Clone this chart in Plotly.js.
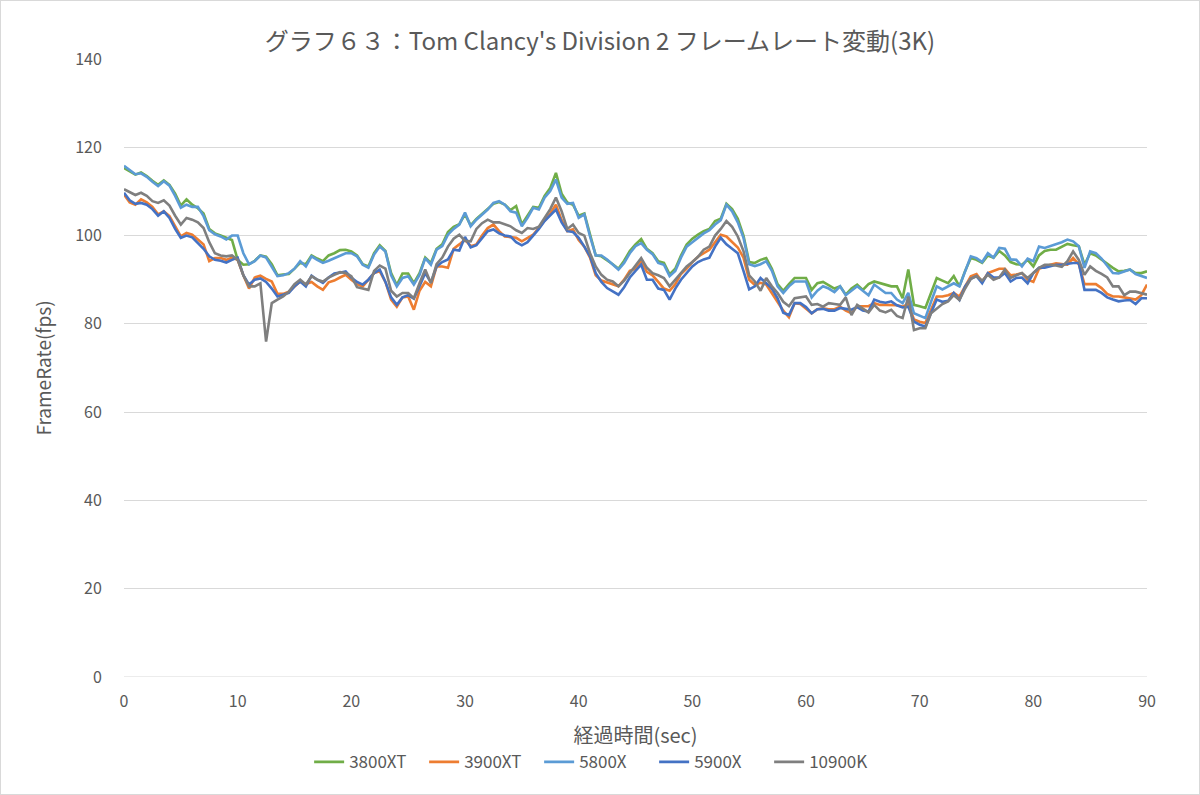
<!DOCTYPE html>
<html>
<head>
<meta charset="utf-8">
<script src="https://cdn.plot.ly/plotly-3.0.1.min.js"></script>
<style>
html,body{margin:0;padding:0;background:#fff;}
#chart{width:1200px;height:795px;box-sizing:border-box;border:1px solid #d9d9d9;}
</style>
</head>
<body>
<div id="chart"></div>
<script>
const seriesNames = ["3800XT", "3900XT", "5800X", "5900X", "10900K"];
const seriesColors = ["#70AD47", "#ED7D31", "#5B9BD5", "#4472C4", "#7F7F7F"];

// time axis: 0 .. 90 sec, every 0.5 sec
const timeSec = [];
for (let i = 0; i <= 180; i++) timeSec.push(i / 2);

const fps3800XT = [
115.3,114.5,113.8,114.3,113.5,112.4,111.5,112.5,111.5,109.5,
106.8,108.2,107,106.2,105,101.5,100.5,100,99.5,99,
94.5,93.4,93.5,94.3,95.5,95.2,93.5,91,91.2,91.3,
92.5,93.8,93.5,95.5,94.8,94.2,95.5,96,96.7,96.8,
96.4,95.5,93.5,93,96,97.8,96.5,91.5,88.8,91.4,
91.4,89.2,91.5,95,93.8,97,98,100.8,102,102.6,
104.8,102.3,103.8,105,106,107.2,107.6,107,105.8,106.7,
102.5,104.5,106.5,106.3,109,110.8,114.2,109.5,107.5,107,
104.5,105,100,95.5,95.3,94.5,93.5,92.5,94.3,96.5,
98,99.2,97,96,94.2,93.8,91.2,92.5,95.5,98,
99.3,100.2,101,101.5,103.3,103.8,107.2,106,103.8,100,
94,93.8,94.5,94.9,92.5,89,87.5,89,90.4,90.4,
90.4,87.7,89.2,89.5,88.8,88,88.5,86.6,88,88.9,
87.7,89,89.6,89.2,88.9,88.5,88.5,85.8,92.3,84.3,
84,83.6,87,90.4,89.8,89.2,90.8,88.5,92,94.9,
94.5,93.8,95.5,95,96.5,95.5,94,93.5,93.4,94.5,
93,95.5,96.5,96.8,96.8,97.5,98.1,97.8,97.6,93.4,
96,95.5,94.5,93.5,92.7,91.9,92,92.3,91.5,91.5,
91.9];

const fps3900XT = [
109.3,107.5,107,108.2,107.5,106.5,104.8,105.5,104.4,102,
99.8,100.6,100.2,99.1,98,94.2,94.9,94.9,94.5,95,
94.5,91,88,90.5,90.9,90.2,89.6,86.8,86.8,87.3,
88.5,89.6,89,89.5,88.5,87.7,89.4,89.8,90.5,91.1,
90,89,88.5,90,91.5,91.9,89.5,85.5,83.9,86,
86.2,83.2,87.5,89.5,88.5,93,93,92.7,97,98,
99.1,97.6,98,100,101.7,102.5,101,99.8,99.7,99.5,
98.7,99.5,100.2,101.8,103.5,105,107,103.5,101,101.4,
99,97.5,95,91,89.8,89.4,88.9,88.5,90,92,
92.5,94.2,91.8,91,89.5,88,87.5,89,91.3,92.5,
94,95.2,96,96.8,98.5,100.2,99.8,98.5,97.3,95,
90,88.8,89.3,88.9,87,85.2,83,81.5,84.7,84.5,
83.5,82.4,83.3,83.5,83.3,83.3,83.9,83,82.4,84,
84,84,84.7,84.3,84.3,84.3,84.2,83.9,84.5,81,
80.5,80.2,83,86.2,86.2,86.5,87,86.2,88.5,90.8,
91.3,89.5,91.5,92,92.5,92.5,91,91.2,91.5,90,
89.5,92.5,93,93.4,93.7,93.6,93.4,94.9,93.5,89,
89,89,88.1,86.8,86.2,86.2,86,85.7,85.5,86.5,
88.9];

const fps5800X = [
115.8,114.8,113.9,114.1,113.3,112.2,111.2,112.3,111.3,109,
106.3,107,106.5,106.5,104.4,101.2,100.3,99.8,99.1,100,
100,96,93.5,94.2,95.5,95,93,90.8,91,91.5,
92.5,94.2,93,95.3,94.5,93.8,94.3,94.9,95.5,96,
96,95.3,93.4,92.7,95.7,97.5,96.4,91,88.5,90.4,
90.8,88.9,91.1,94.9,93.4,96.8,97.6,100.2,101.5,102.5,
105.2,102.1,103.6,104.8,105.9,107.4,107.8,107,105.5,105.2,
102.1,104,106.3,105.9,108.6,110.1,112.7,108.6,107.2,107.4,
104,104.8,99.8,95.5,95.5,94.6,93.5,92.3,93.8,96,
97.6,98.3,96.8,95.8,93.8,93.4,90.8,92,95,97.5,
98.5,99.5,100.5,101.2,102.5,103.5,107,105.5,103,99.5,
93.5,93.1,93.5,94.2,92,88.5,87,88.5,89.6,89.6,
89.6,86,87.5,88.5,88,87.2,88.5,86.5,87.5,88.5,
87.5,86.5,88.9,88,87,87,85.5,84.7,87,82.4,
81.8,81.3,85,88.5,87.8,88.5,89.2,88.5,92,95.3,
94.9,94,96,95,97.2,97,94.6,94.5,93,94.8,
94.2,97.5,97.2,97.6,98,98.5,99.1,98.7,97.6,92.7,
96.4,96,94.8,93.2,91.5,91.4,91.8,92.3,91.3,90.8,
90.4];

const fps5900X = [
109.7,108,107.2,107.4,107,106,104.5,105.5,104,101.5,
99.5,100,99.6,98.2,97,95.3,94.5,94.3,93.9,94.5,
95,91,88.9,90,90.3,89.5,88,86.2,86.6,87,
88.5,89.6,88.5,90.9,90,89.3,90.5,91.4,91.6,91.9,
90.5,89.5,88.9,90,91.5,92.3,89.5,86,84.3,86,
86.5,85.7,88.5,91.5,89.4,93,94,94.6,96.8,96.6,
99.7,97.3,97.8,99.5,101,101.4,100.5,100,99.8,98.5,
97.8,98.5,100,101.5,103.3,104.5,105.9,103,101,100.8,
99.5,97.5,95.3,91.5,89.5,88.1,87.3,86.6,88.3,90.5,
92,93.4,90,90,88,87.7,85.5,88,90,91.5,
93,94,94.6,95,97.5,99.5,98,97,96,92,
87.8,88.5,90.4,89.2,88,85.8,82.5,82,84.7,84.7,
83.8,82.4,83.3,83.4,83,83,83.6,83.4,83.2,83.8,
83,82.8,85.5,85,84.8,85.1,84.2,83.7,83.9,80.5,
79.8,79.4,82.5,85.5,85,85.2,87,85.4,88.5,90.2,
90.8,89.2,91.5,90.5,90.5,91.5,89.6,90.4,90.5,89.2,
91.5,92.7,92.7,93,93.4,93.4,93.6,93.8,93.8,87.7,
87.7,87.7,87,86,85.5,85.1,85.3,85.4,84.5,85.8,
85.8];

const fps10900K = [
110.5,109.8,109.2,109.7,109,107.8,107.4,108,106.8,104.5,
102.5,104,103.6,103,101.7,98.5,96,95.5,95.3,95.5,
94.5,91,88.5,88.5,89.2,76,84.7,85.5,86.2,87.3,
89,90,88.9,90.8,90,89.6,90.5,91.1,91.7,91.5,
90.8,88.3,88,87.7,92,93.2,92.5,87.5,86.2,87,
87,85.8,89.2,92.3,89.2,93.5,95,97.5,99.3,100.2,
98.8,98.7,101.5,102.8,103.6,103,103,102.5,102.1,101.2,
100.6,101.7,101.5,102,104,106,108.6,105.5,101.5,102.5,
100.6,100,96,93,91.1,90,89.6,88.5,89.8,91.5,
93,94.9,92.7,91.5,91,90.4,88.5,90,91.3,93,
94,95.2,96.8,97.5,100,101.5,103.3,102,99.8,96.5,
91,89.6,87.5,90.4,88.5,87,85,84,85.8,86,
86.2,84.3,84.5,83.9,84.7,84.5,84.3,86,82,84.3,
83.5,82.6,84.3,83,82.6,83.2,81.8,81.3,86.2,78.6,
79,79,82.4,83.5,84.5,85.1,86.5,85.4,88,90.2,
90.8,89.8,91.1,90,90.5,92.3,90.4,91,91.5,90.4,
91.5,92.7,93.4,93.4,93.2,92.9,94.2,96.4,94.5,91.1,
93,92,91.3,90.5,88.5,88.5,86.5,87.3,87.3,87,
86.6];

const seriesValues = [fps3800XT, fps3900XT, fps5800X, fps5900X, fps10900K];

const yTicks = [0, 20, 40, 60, 80, 100, 120, 140];
const xTicks = [0, 10, 20, 30, 40, 50, 60, 70, 80, 90];

const FONT = '"Noto Sans CJK JP", "Noto Sans", sans-serif';
const TXT = '#595959';

const traces = seriesNames.map((name, i) => ({
  type: 'scatter',
  mode: 'lines',
  name: name,
  x: timeSec,
  y: seriesValues[i],
  line: {color: seriesColors[i], width: 2.6}
}));

const layout = {
  width: 1198,
  height: 793,
  margin: {l: 123, r: 52, t: 58, b: 117, pad: 0},
  paper_bgcolor: '#ffffff',
  plot_bgcolor: '#ffffff',
  font: {family: FONT, color: TXT, size: 16},
  title: {
    text: 'グラフ６３：Tom Clancy\'s Division 2 フレームレート変動(3K)',
    font: {family: FONT, size: 24, color: TXT},
    x: 0.5, xanchor: 'center',
    y: 0.949, yanchor: 'middle', yref: 'container'
  },
  xaxis: {
    range: [0, 90],
    tickvals: xTicks,
    ticktext: xTicks.map(String),
    showgrid: false,
    zeroline: false,
    showline: false,
    ticks: 'outside',
    ticklen: 10,
    tickcolor: 'rgba(0,0,0,0)',
    tickfont: {family: FONT, size: 16, color: TXT},
    title: {text: '経過時間(sec)', font: {family: FONT, size: 20, color: TXT}, standoff: 17},
    fixedrange: true
  },
  yaxis: {
    range: [0, 140],
    tickvals: yTicks,
    ticktext: yTicks.map(String),
    showgrid: true,
    gridcolor: '#d9d9d9',
    gridwidth: 1,
    zeroline: false,
    showline: false,
    ticks: 'outside',
    ticklen: 18,
    tickcolor: 'rgba(0,0,0,0)',
    tickfont: {family: FONT, size: 16, color: TXT},
    title: {text: 'FrameRate(fps)', font: {family: FONT, size: 19, color: TXT}, standoff: 18},
    fixedrange: true
  },
  shapes: [{
    type: 'line', xref: 'paper', yref: 'y',
    x0: 0, x1: 1, y0: 0, y1: 0,
    line: {color: '#d9d9d9', width: 1}
  }],
  legend: {
    orientation: 'h',
    x: 0.462, xanchor: 'center',
    y: -0.138, yanchor: 'middle',
    font: {family: FONT, size: 17, color: TXT},
    itemwidth: 30,
    entrywidth: 70,
    traceorder: 'normal',
    bgcolor: 'rgba(0,0,0,0)'
  },
  showlegend: true
};

Plotly.newPlot('chart', traces, layout, {displayModeBar: false, staticPlot: true});
</script>
</body>
</html>
